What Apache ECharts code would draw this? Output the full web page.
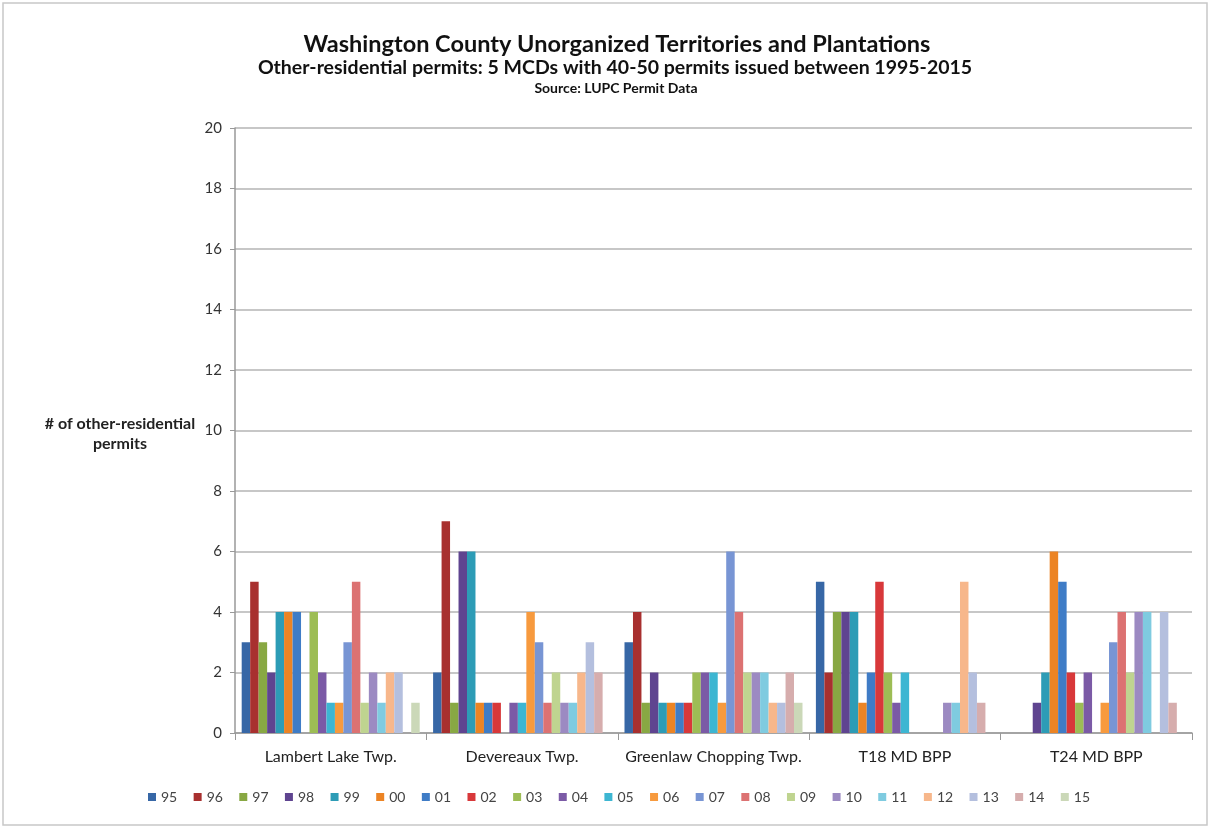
<!DOCTYPE html>
<html>
<head>
<meta charset="utf-8">
<script src="https://cdn.jsdelivr.net/npm/echarts@6/dist/echarts.min.js"></script>
<style>
  html, body { margin: 0; padding: 0; background: #fff; }
  #plotContainer { width: 1211px; height: 829px; }
</style>
</head>
<body>
<div id="plotContainer"></div>
<script>
// permit counts per MCD, one array per year (95 .. 15)
const categories = ['Lambert Lake Twp.', 'Devereaux Twp.', 'Greenlaw Chopping Twp.', 'T18 MD BPP', 'T24 MD BPP'];
const years = ['95', '96', '97', '98', '99', '00', '01', '02', '03', '04', '05', '06', '07', '08', '09', '10', '11', '12', '13', '14', '15'];
const yearValues = {
    '95': [3, 2, 3, 5, 0],
    '96': [5, 7, 4, 2, 0],
    '97': [3, 1, 1, 4, 0],
    '98': [2, 6, 2, 4, 1],
    '99': [4, 6, 1, 4, 2],
    '00': [4, 1, 1, 1, 6],
    '01': [4, 1, 1, 2, 5],
    '02': [0, 1, 1, 5, 2],
    '03': [4, 0, 2, 2, 1],
    '04': [2, 1, 2, 1, 2],
    '05': [1, 1, 2, 2, 0],
    '06': [1, 4, 1, 0, 1],
    '07': [3, 3, 6, 0, 3],
    '08': [5, 1, 4, 0, 4],
    '09': [1, 2, 2, 0, 2],
    '10': [2, 1, 2, 1, 4],
    '11': [1, 1, 2, 1, 4],
    '12': [2, 2, 1, 5, 0],
    '13': [2, 3, 1, 2, 4],
    '14': [0, 2, 2, 1, 1],
    '15': [1, 0, 1, 0, 0]
};
const yTicks = [0, 2, 4, 6, 8, 10, 12, 14, 16, 18, 20];

const colors = ['#3767a6', '#a8302f', '#88a843', '#5f4490', '#2d9cb6', '#ec8424',
    '#3f7cc6', '#d8383a', '#9dbd55', '#7b5aa6', '#3db6d2', '#f79a3e',
    '#7895d4', '#dc7272', '#bfd490', '#9c8ac2', '#7fcbe0', '#f7b78b',
    '#b4bfde', '#d6adad', '#cbd8b8'];

const chartDom = document.getElementById('plotContainer');
const myChart = echarts.init(chartDom);
const font = 'Lato, "Open Sans", sans-serif';

const series = years.map((y, i) => ({
    name: y,
    type: 'bar',
    data: yearValues[y],
    barGap: '0%',
    barCategoryGap: '7%',
    itemStyle: { color: colors[i] }
}));

const option = {
    animation: false,
    textStyle: { fontFamily: font },
    title: [
        {
            text: 'Washington County Unorganized Territories and Plantations',
            left: 612, top: 27, textAlign: 'center',
            textStyle: { fontSize: 23.5, fontWeight: 'bold', color: '#111', fontFamily: font }
        },
        {
            text: 'Other-residential permits: 5 MCDs with 40-50 permits issued between 1995-2015',
            left: 610, top: 53, textAlign: 'center',
            textStyle: { fontSize: 19.5, fontWeight: 'bold', color: '#111', fontFamily: font }
        },
        {
            text: 'Source: LUPC Permit Data',
            left: 611, top: 76, textAlign: 'center',
            textStyle: { fontSize: 14, fontWeight: 'bold', color: '#111', fontFamily: font }
        },
        {
            text: '# of other-residential\npermits',
            left: 115, top: 409, textAlign: 'center',
            textStyle: { fontSize: 16, fontWeight: 'bold', color: '#222', lineHeight: 20, fontFamily: font }
        }
    ],
    graphic: [{
        type: 'rect',
        shape: { x: 3, y: 3, width: 1204, height: 822 },
        style: { fill: 'none', stroke: '#c8c8c8', lineWidth: 1.5 }
    }],
    legend: {
        data: years,
        bottom: 20,
        left: 143,
        icon: 'rect',
        itemWidth: 8,
        itemHeight: 8,
        itemGap: 16.4,
        textStyle: { fontSize: 14, color: '#444', fontFamily: font }
    },
    grid: { left: 235, right: 19, top: 128, bottom: 96 },
    xAxis: {
        type: 'category',
        data: categories,
        axisLine: { lineStyle: { color: '#999', width: 1.5 } },
        axisTick: { show: true, interval: 0, length: 7, lineStyle: { color: '#999' } },
        axisLabel: { interval: 0, fontSize: 16, color: '#222', margin: 16, fontFamily: font }
    },
    yAxis: {
        type: 'value',
        min: yTicks[0],
        max: yTicks[yTicks.length - 1],
        interval: 2,
        axisLine: { show: true, lineStyle: { color: '#999', width: 1.5 } },
        axisTick: { show: true, length: 5, lineStyle: { color: '#999' } },
        axisLabel: { fontSize: 15, color: '#333', margin: 13, fontFamily: font },
        splitLine: { lineStyle: { color: '#b5b5b5', width: 1.5 } }
    },
    series: series
};
option && myChart.setOption(option);
window.onresize = () => {
    myChart.resize();
};
</script>
</body>
</html>
